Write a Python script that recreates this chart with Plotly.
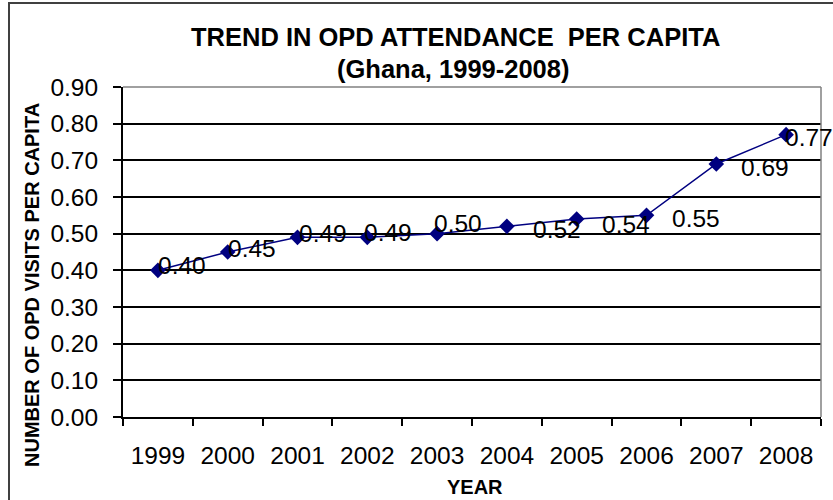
import plotly.graph_objects as go

years = ["1999", "2000", "2001", "2002", "2003", "2004", "2005", "2006", "2007", "2008"]
opd_per_capita = [0.40, 0.45, 0.49, 0.49, 0.50, 0.52, 0.54, 0.55, 0.69, 0.77]
label_texts = ["0.40", "0.45", "0.49", "0.49", "0.50", "0.52", "0.54", "0.55", "0.69", "0.77"]
y_ticks = [0.0, 0.1, 0.2, 0.3, 0.4, 0.5, 0.6, 0.7, 0.8, 0.9]

# label offsets in pixels (style only)
label_dx = [-1, -1, 0, -4, -4, 25, 24, 24, 24, -2]
label_dy = [5, 4, 4, 5, 10, -3, -5, -3, -3, -3]

FONT = "Arial, Liberation Sans, sans-serif"
W, H = 833, 500
L, R, T, B = 123, 12, 87, 83
PW, PH = W - L - R, H - T - B

def px(xp):
    return (xp - L) / PW

def py(yp):
    return (H - B - yp) / PH

fig = go.Figure()
fig.add_trace(go.Scatter(
    x=years, y=opd_per_capita, mode="lines+markers",
    line=dict(color="#000080", width=1.5),
    marker=dict(symbol="diamond", size=12, color="#000080"),
    hoverinfo="skip", showlegend=False,
))

annotations = []
for i, (v, t, dx, dy) in enumerate(zip(opd_per_capita, label_texts, label_dx, label_dy)):
    annotations.append(dict(
        x=i, y=v, xref="x", yref="y", text=t, showarrow=False,
        xanchor="left", yanchor="middle", xshift=dx, yshift=dy, borderpad=0,
        font=dict(family=FONT, size=24.5, color="black"),
    ))

annotations += [
    dict(x=px(455), y=py(37), xref="paper", yref="paper", showarrow=False,
         text="<b>TREND IN OPD ATTENDANCE  PER CAPITA</b>", xanchor="center", yanchor="middle",
         font=dict(family=FONT, size=25.5, color="black")),
    dict(x=px(453), y=py(69), xref="paper", yref="paper", showarrow=False,
         text="<b>(Ghana, 1999-2008)</b>", xanchor="center", yanchor="middle",
         font=dict(family=FONT, size=25.5, color="black")),
    dict(x=px(32), y=py(285), xref="paper", yref="paper", showarrow=False,
         text="<b>NUMBER OF OPD VISITS PER CAPITA</b>", textangle=-90,
         xanchor="center", yanchor="middle",
         font=dict(family=FONT, size=20, color="black")),
    dict(x=px(475), y=py(487), xref="paper", yref="paper", showarrow=False,
         text="<b>YEAR</b>", xanchor="center", yanchor="middle",
         font=dict(family=FONT, size=20, color="black")),
]

shapes = [
    # outer chart border
    dict(type="rect", xref="paper", yref="paper", x0=px(9), x1=px(845), y0=py(515), y1=py(3),
         line=dict(color="#404040", width=2), layer="above"),
    # plot area top/right border
    dict(type="line", xref="paper", yref="paper", x0=0, x1=1, y0=1, y1=1,
         line=dict(color="#808080", width=1.5), layer="above"),
    dict(type="line", xref="paper", yref="paper", x0=1, x1=1, y0=0, y1=1,
         line=dict(color="#808080", width=1.5), layer="above"),
]

fig.update_layout(
    width=W, height=H,
    margin=dict(l=L, r=R, t=T, b=B, pad=0),
    paper_bgcolor="white", plot_bgcolor="white",
    annotations=annotations, shapes=shapes,
    xaxis=dict(
        type="category", categoryorder="array", categoryarray=years,
        range=[-0.5, len(years) - 0.5],
        tickson="boundaries", ticks="outside", ticklen=7, tickwidth=1.5, tickcolor="black",
        showline=True, linecolor="black", linewidth=2,
        showgrid=False, zeroline=False,
        tickfont=dict(family=FONT, size=24.5, color="black"),
        ticklabelstandoff=16,
    ),
    yaxis=dict(
        range=[0, 0.9], tickvals=y_ticks, tickformat=".2f",
        ticks="outside", ticklen=8, tickwidth=1.5, tickcolor="black",
        showline=True, linecolor="black", linewidth=2,
        showgrid=True, gridcolor="black", gridwidth=1.5, zeroline=False,
        tickfont=dict(family=FONT, size=24.5, color="black"),
        ticklabelstandoff=10,
    ),
)

fig.write_html("out.html", config={"displayModeBar": False},
               post_script="document.body.style.margin='0';document.body.style.overflow='hidden';")
